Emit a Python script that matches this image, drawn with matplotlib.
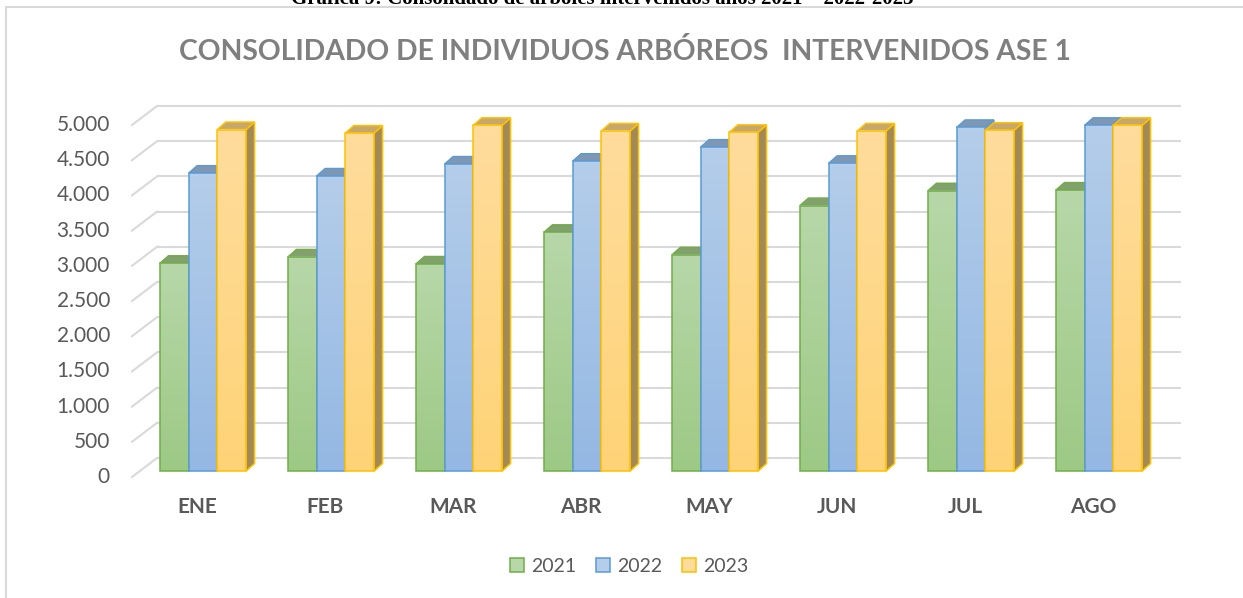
import numpy as np
import matplotlib
matplotlib.use("Agg")
import matplotlib.pyplot as plt
from matplotlib.patches import Polygon, Rectangle, Patch
from matplotlib.colors import LinearSegmentedColormap

# ---------------- data ----------------
months = ["ENE", "FEB", "MAR", "ABR", "MAY", "JUN", "JUL", "AGO"]
years = ["2021", "2022", "2023"]
v2021 = [2950, 3040, 2940, 3390, 3070, 3770, 3980, 3990]
v2022 = [4230, 4190, 4360, 4400, 4600, 4370, 4880, 4910]
v2023 = [4850, 4800, 4910, 4830, 4810, 4830, 4840, 4910]
y_ticks = [0, 500, 1000, 1500, 2000, 2500, 3000, 3500, 4000, 4500, 5000]
y_tick_labels = ["0", "500", "1.000", "1.500", "2.000", "2.500", "3.000",
                 "3.500", "4.000", "4.500", "5.000"]
title = "CONSOLIDADO DE INDIVIDUOS ARBÓREOS  INTERVENIDOS ASE 1"
caption = "Gráfica 9: Consolidado de árboles intervenidos años 2021 – 2022-2023"

series = [v2021, v2022, v2023]
face_top = ["#b7d7a8", "#b4cdea", "#fedc9c"]
face_bot = ["#9dc985", "#94b8e3", "#ffd377"]
edge_col = ["#70ad47", "#5b9bd5", "#ffc000"]
top_col = ["#83a06f", "#8097b3", "#c6a76c"]
side_col = ["#7f9a68", "#7c93b0", "#a28a58"]

plt.rcParams["font.family"] = ["Lato", "DejaVu Sans"]
GRAY = "#595959"

W, H = 1243, 598
fig = plt.figure(figsize=(W / 100, H / 100), dpi=100)
ax = fig.add_axes([0, 0, 1, 1])

# layout geometry (pixels)
X0, XSTEP = 203.0, 128.0        # first group centre, group spacing
Y0, YSCALE = 471.0, 352.0 / 5000  # bar base (front plane), px per unit
ax.set_xlim((0 - X0) / XSTEP, (W - X0) / XSTEP)
ax.set_ylim((Y0 - H) / YSCALE, Y0 / YSCALE)
ax.axis("off")


def dx(px):
    return px / XSTEP


def dy(px):
    return px / YSCALE


# back wall gridlines + left side diagonals
wall_l, wall_r = dx(157 - X0), dx(1181 - X0)
front_l = dx(132 - X0)
for v, lab in zip(y_ticks, y_tick_labels):
    ax.plot([wall_l, wall_r], [v + dy(13), v + dy(13)], color="#d9d9d9",
            lw=1.5, zorder=1, solid_capstyle="butt")
    ax.plot([front_l, wall_l], [v - dy(6), v + dy(13)], color="#d9d9d9",
            lw=1.5, zorder=1)
    ax.text(dx(110 - X0), v - dy(6), lab,
            ha="right", va="center", fontsize=15, color=GRAY)

# bars
bw = dx(28.7)
bdx, bdy = dx(8.5), dy(7.5)
z = 2
for i in range(len(months)):
    for j, vals in enumerate(series):
        v = vals[i]
        x0 = i + (j - 1) * bw - bw / 2
        x1 = x0 + bw
        side = Polygon([(x1, 0), (x1, v), (x1 + bdx, v + bdy), (x1 + bdx, bdy)],
                       closed=True, fc=side_col[j], ec=edge_col[j], lw=1.1,
                       zorder=z, joinstyle="miter")
        ax.add_patch(side)
        top = Polygon([(x0, v), (x1, v), (x1 + bdx, v + bdy), (x0 + bdx, v + bdy)],
                      closed=True, fc=top_col[j], ec=edge_col[j], lw=1.1,
                      zorder=z + 0.1, joinstyle="miter")
        ax.add_patch(top)
        cmap = LinearSegmentedColormap.from_list("g", [face_bot[j], face_top[j]])
        grad = np.linspace(0, 1, 64).reshape(-1, 1)
        ax.imshow(grad, extent=[x0, x1, 0, v], origin="lower", aspect="auto",
                  cmap=cmap, interpolation="bilinear", zorder=z + 0.2)
        ax.add_patch(Rectangle((x0, 0), bw, v, fill=False, ec=edge_col[j],
                               lw=1.1, zorder=z + 0.3, joinstyle="miter"))
        z += 1
    ax.text(i + dx(-6), -dy(36), months[i], ha="center", va="center",
            fontsize=15, fontweight="bold", color=GRAY)

ax.set_xlim((0 - X0) / XSTEP, (W - X0) / XSTEP)
ax.set_ylim((Y0 - H) / YSCALE, Y0 / YSCALE)

# title and caption
fig.text(625 / W, 1 - 52 / H, title, ha="center", va="center", fontsize=20.3,
         fontweight="bold", color="#7f7f7f")
fig.text(602 / W, 1 - 4 / H, caption, ha="center", va="baseline", fontsize=15,
         fontweight="bold", color="black", family=["Liberation Serif", "DejaVu Serif"])

# chart border
fig.patches.append(Rectangle((6 / W, -0.1), 1.2, 1 - 7 / H + 0.1,
                             transform=fig.transFigure, fill=False,
                             ec="#d9d9d9", lw=1.5, zorder=0))

# legend
handles = [Patch(fc=face_top[j], ec=edge_col[j], lw=1.1, label=years[j])
           for j in range(3)]
leg = fig.legend(handles=handles, loc="center", bbox_to_anchor=(629 / W, 1 - 566 / H),
                 ncol=3, frameon=False, fontsize=14, handlelength=0.75,
                 handleheight=0.75, handletextpad=0.35, columnspacing=1.0)
for t in leg.get_texts():
    t.set_color(GRAY)

fig.savefig("out.png", dpi=100)
